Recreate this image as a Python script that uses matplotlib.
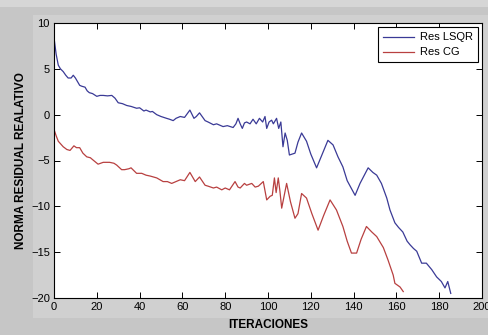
import matplotlib
matplotlib.use("Agg")
import matplotlib.pyplot as plt
from matplotlib.patches import Rectangle

# ── data ─────────────────────────────────────────────────────────────────────
lsqr_it = [0, 1, 2, 3, 4.3, 5.5, 6.6, 8, 9, 10, 11, 12, 13, 14.5, 15.5, 16.5,
           18, 20, 21.5, 23, 25, 27, 28.5, 30, 32, 34, 36, 38.6, 40, 42, 43,
           45, 46, 48, 50, 52.6, 54, 55.7, 57, 59, 61, 63.5, 65.4, 66.5, 68,
           70.6, 72, 74.5, 76, 79, 81, 83.7, 85, 86, 87, 88, 89, 90, 91.6, 93,
           94.5, 96, 97.5, 98.6, 99.4, 100.5, 101.7, 102.5, 104, 105, 106,
           107, 108, 109, 110, 112.6, 114, 115.7, 118, 120, 122.7, 125, 128,
           130.4, 132.7, 135, 137, 140.7, 143, 146.8, 149, 150.8, 153, 155.5,
           157, 159.3, 161, 163, 165, 166.4, 168, 169.5, 171.8, 174, 176.5,
           178.8, 181, 182.7, 184, 185.4]
lsqr_res = [8.4, 6.6, 5.4, 5.0, 4.7, 4.3, 4.0, 4.0, 4.3, 4.0, 3.6, 3.2, 3.1,
            3.0, 2.6, 2.4, 2.3, 2.0, 2.1, 2.1, 2.05, 2.1, 1.8, 1.3, 1.2, 1.0,
            0.9, 0.7, 0.75, 0.4, 0.5, 0.3, 0.35, 0.0, -0.2, -0.4, -0.5, -0.65,
            -0.4, -0.2, -0.3, 0.5, -0.4, -0.2, 0.2, -0.65, -0.8, -1.1, -1.0,
            -1.3, -1.2, -1.4, -1.0, -0.4, -1.0, -1.5, -0.9, -0.8, -1.0, -0.5,
            -1.0, -0.4, -0.8, -0.2, -1.5, -0.8, -0.6, -1.0, -0.4, -1.5, -0.8,
            -3.5, -2.0, -2.8, -4.4, -4.2, -3.0, -2.0, -2.9, -4.3, -5.8, -4.5,
            -2.8, -3.3, -4.6, -5.7, -7.2, -8.8, -7.5, -5.8, -6.3, -6.6, -7.5,
            -9.1, -10.4, -11.8, -12.3, -12.8, -13.8, -14.2, -14.6, -14.9,
            -16.2, -16.2, -16.9, -17.7, -18.2, -18.9, -18.2, -19.5]

cg_it = [0, 1, 2, 4.3, 6, 7.5, 9.3, 10.5, 12, 13.5, 15.3, 17, 18, 20.6, 23,
         26, 28, 29.3, 31.6, 33, 35, 36, 38.6, 41, 43, 45, 48, 51, 53, 55, 57,
         59, 61, 63.5, 66, 68, 70.6, 72, 74.5, 76, 78.4, 80, 82, 84.6, 86, 87,
         89, 90, 92.4, 94, 95.5, 97.8, 99.4, 101, 102, 103, 103.8, 104.8,
         105.6, 106.4, 108.7, 110.5, 112.6, 114, 115.7, 118, 120.5, 123.4,
         126, 129, 132, 135, 137, 139, 141.4, 143.5, 146, 148.5, 150.8, 153.9,
         156, 158.5, 159.3, 161.7, 163.2]
cg_res = [-1.6, -2.3, -2.9, -3.5, -3.8, -3.9, -3.4, -3.6, -3.6, -4.2, -4.6,
          -4.7, -4.9, -5.4, -5.2, -5.2, -5.3, -5.5, -6.0, -6.0, -5.9, -5.8,
          -6.4, -6.4, -6.6, -6.7, -6.9, -7.3, -7.3, -7.5, -7.3, -7.1, -7.2,
          -6.3, -7.3, -6.8, -7.7, -7.8, -8.0, -7.9, -8.2, -8.0, -8.2, -7.3,
          -7.9, -8.0, -7.5, -7.7, -7.5, -7.9, -7.8, -7.3, -9.3, -8.9, -8.8,
          -6.9, -8.5, -6.9, -8.4, -10.2, -7.5, -9.5, -11.3, -10.8, -8.6, -9.1,
          -10.8, -12.6, -11.0, -9.3, -10.4, -12.2, -13.8, -15.1, -15.1, -13.6,
          -12.2, -12.8, -13.3, -14.5, -15.8, -17.5, -18.4, -18.8, -19.3]

x_ticks = list(range(0, 201, 20))
y_ticks = list(range(-20, 11, 5))

plt.rcParams["font.family"] = ["Liberation Sans", "DejaVu Sans"]

W, H = 489, 335
fig = plt.figure(figsize=(W / 100, H / 100), dpi=100, facecolor="#c6c6c6")

# screenshot-style grey panels behind the axes
fig.patches.append(Rectangle((0, 1 - 7 / H), 1, 7 / H, transform=fig.transFigure,
                             facecolor="#d6d6d6", edgecolor="none", zorder=-10))
fig.patches.append(Rectangle((33 / W, 1 - 318 / H), 1 - 33 / W, (318 - 15) / H,
                             transform=fig.transFigure, facecolor="#d0d0d0",
                             edgecolor="none", zorder=-10))

ax = fig.add_axes([54 / W, 1 - 298 / H, 428 / W, 275 / H])
ax.set_zorder(1)
ax.plot(lsqr_it, lsqr_res, color="#3a3a96", lw=0.9, label="Res LSQR")
ax.plot(cg_it, cg_res, color="#b84040", lw=0.9, label="Res CG")

ax.set_xlim(0, 200)
ax.set_ylim(-20, 10)
ax.set_xticks(x_ticks)
ax.set_yticks(y_ticks)
ax.tick_params(direction="in", top=True, right=True, length=4, width=0.7,
               labelsize=8, pad=3)
for s in ax.spines.values():
    s.set_linewidth(0.8)

ax.set_xlabel("ITERACIONES", fontsize=8.5, fontweight="bold")
ax.xaxis.set_label_coords(0.5, -0.078)
ax.set_ylabel("NORMA RESIDUAL REALATIVO", fontsize=8.5, fontweight="bold")
ax.yaxis.set_label_coords(-0.064, 0.5)

leg = ax.legend(loc="upper right", fontsize=8, fancybox=False, framealpha=1,
                edgecolor="black", borderaxespad=0.4, handlelength=2.8,
                borderpad=0.45, labelspacing=0.45, handletextpad=0.5)
leg.get_frame().set_linewidth(0.8)

fig.savefig("out.png", dpi=100, facecolor=fig.get_facecolor())
